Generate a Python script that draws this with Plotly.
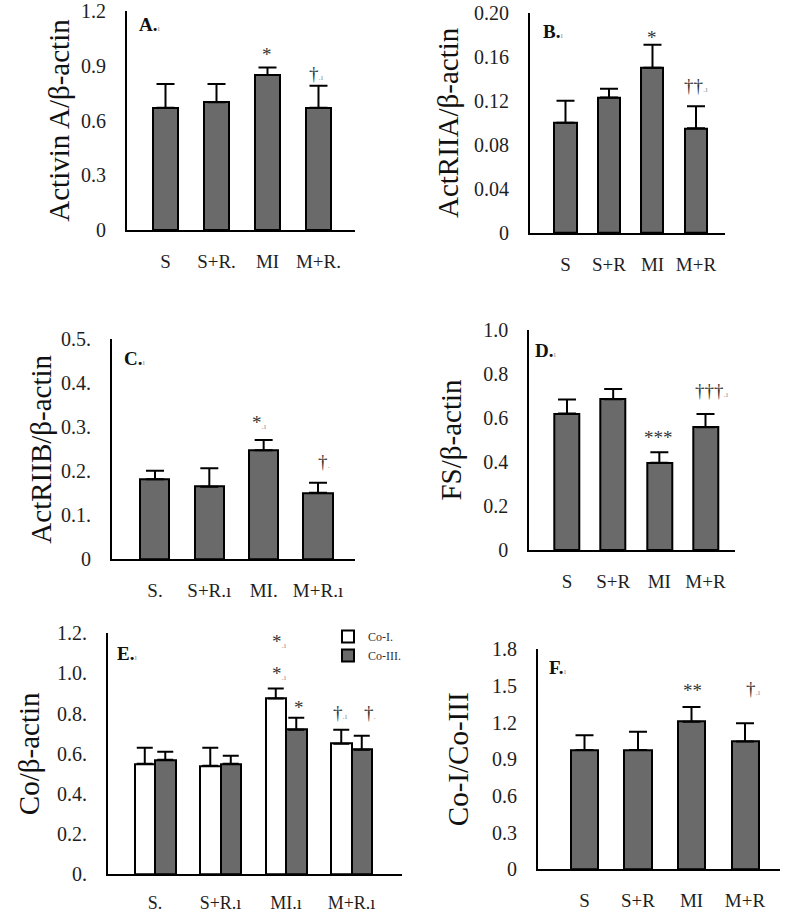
import plotly.graph_objects as go

W, H = 787, 913
FONT = "Liberation Serif"

groups_A = ["S", "S+R.", "MI", "M+R."]
groups_B = ["S", "S+R", "MI", "M+R"]
groups_C = ["S.", "S+R.ı", "MI.", "M+R.ı"]
groups_D = ["S", "S+R", "MI", "M+R"]
groups_E = ["S.", "S+R.ı", "MI.ı", "M+R.ı"]
groups_F = ["S", "S+R", "MI", "M+R"]

A_vals = [0.67, 0.70, 0.85, 0.67]
A_sem = [0.13, 0.10, 0.04, 0.12]
A_sig = ["", "", "*", "†.ı"]

B_vals = [0.100, 0.123, 0.150, 0.095]
B_sem = [0.020, 0.008, 0.021, 0.020]
B_sig = ["", "", "*", "††.ı"]

C_vals = [0.182, 0.165, 0.248, 0.151]
C_sem = [0.019, 0.042, 0.023, 0.023]
C_sig = ["", "", "*.ı", "†."]

D_vals = [0.620, 0.685, 0.397, 0.558]
D_sem = [0.064, 0.047, 0.047, 0.060]
D_sig = ["", "", "***", "†††.ı"]

E_co1 = [0.55, 0.54, 0.875, 0.65]
E_co1_sem = [0.08, 0.09, 0.05, 0.07]
E_co1_sig = ["", "", "*.ı", "†.ı"]
E_co1_sig_upper = ["", "", "*.ı", ""]
E_co3 = [0.57, 0.55, 0.72, 0.62]
E_co3_sem = [0.04, 0.04, 0.06, 0.07]
E_co3_sig = ["", "", "*", "†."]

F_vals = [0.976, 0.976, 1.208, 1.045]
F_sem = [0.12, 0.15, 0.12, 0.15]
F_sig = ["", "", "**", "†.ı"]

ticks_A = [0, 0.3, 0.6, 0.9, 1.2]
ticktext_A = ["0", "0.3", "0.6", "0.9", "1.2"]
ticks_B = [0, 0.04, 0.08, 0.12, 0.16, 0.20]
ticktext_B = ["0", "0.04", "0.08", "0.12", "0.16", "0.20"]
ticks_C = [0, 0.1, 0.2, 0.3, 0.4, 0.5]
ticktext_C = ["0", "0.1.", "0.2.", "0.3.", "0.4.", "0.5."]
ticks_D = [0, 0.2, 0.4, 0.6, 0.8, 1.0]
ticktext_D = ["0", "0.2", "0.4", "0.6", "0.8", "1.0"]
ticks_E = [0, 0.2, 0.4, 0.6, 0.8, 1.0, 1.2]
ticktext_E = ["0.", "0.2.", "0.4.", "0.6.", "0.8.", "1.0.", "1.2."]
ticks_F = [0, 0.3, 0.6, 0.9, 1.2, 1.5, 1.8]
ticktext_F = ["0", "0.3", "0.6", "0.9", "1.2", "1.5", "1.8"]

BAR_GRAY = "#6a6a6a"
TXT = "#1e1e1e"
ART = "<span style='font-size:9px;color:#999'>{}</span>"

fig = go.Figure()
annotations = []


def px_x(p):
    return p / W


def px_y(p):
    return 1 - p / H


def fmt(t):
    core = t.rstrip(".ı")
    tail = t[len(core):]
    return core + (ART.format(tail) if tail else "")


def add_panel(idx, xdom, ydom, xrange, yrange, ticks, ticktext, cats, title, letter,
              letter_pos, standoff, xfont=19, xstandoff=13):
    xa = "xaxis" if idx == 1 else f"xaxis{idx}"
    ya = "yaxis" if idx == 1 else f"yaxis{idx}"
    yref = "y" if idx == 1 else f"y{idx}"
    xref = "x" if idx == 1 else f"x{idx}"
    fig.update_layout(**{
        xa: dict(domain=[px_x(xdom[0]), px_x(xdom[1])], range=xrange, anchor=yref,
                 tickvals=[0, 1, 2, 3], ticktext=cats, showline=True, linecolor="black",
                 linewidth=2, showgrid=False, zeroline=False, ticks="",
                 ticklabelstandoff=xstandoff, automargin=False,
                 tickfont=dict(family=FONT, size=xfont, color=TXT)),
        ya: dict(domain=[px_y(ydom[1]), px_y(ydom[0])], range=yrange, anchor=xref,
                 tickvals=ticks, ticktext=ticktext, showline=True, linecolor="black",
                 linewidth=2, showgrid=False, zeroline=False, ticks="",
                 ticklabelstandoff=15, automargin=False,
                 tickfont=dict(family=FONT, size=20, color=TXT),
                 title=dict(text=title, font=dict(family=FONT, size=29, color="#111"),
                            standoff=standoff)),
    })
    annotations.append(dict(
        xref=f"{xref} domain", yref=f"{yref} domain", x=letter_pos[0], y=letter_pos[1],
        xanchor="left", yanchor="middle", showarrow=False,
        text=f"<b>{letter}.</b>" + ART.format("ı"),
        font=dict(family=FONT, size=19, color="#111")))
    return xref, yref


def add_bars(xref, yref, vals, sem, width, offset=None, color=BAR_GRAY, name=None,
             showlegend=False, errw=9):
    kw = {}
    if offset is not None:
        kw["offset"] = offset
    fig.add_trace(go.Bar(
        x=[0, 1, 2, 3], y=vals, width=width, xaxis=xref, yaxis=yref,
        marker=dict(color=color, line=dict(color="black", width=2)),
        error_y=dict(type="data", array=sem, arrayminus=[0] * len(sem), symmetric=False,
                     color="black", thickness=2, width=errw),
        name=name, showlegend=showlegend, **kw))


def add_sig(xref, yref, vals, sem, sigs, shifts, dx=0.0, size=19):
    for i, (v, s, t) in enumerate(zip(vals, sem, sigs)):
        if not t:
            continue
        xs, ys = shifts.get(i, (0, 0))
        annotations.append(dict(
            xref=xref, yref=yref, x=i + dx, y=v + s, xanchor="center", yanchor="bottom",
            yshift=ys, xshift=xs, showarrow=False,
            text=fmt(t), font=dict(family=FONT, size=size, color="#333")))


# Panel A
xr, yr = add_panel(1, (127, 355), (11, 230), [-0.755, 3.716], [0, 1.2],
                   ticks_A, ticktext_A, groups_A, "Activin A/β-actin", "A",
                   (0.045, 0.94), 3)
add_bars(xr, yr, A_vals, A_sem, 0.49)
add_sig(xr, yr, A_vals, A_sem, A_sig, {2: (0, 1), 3: (-2, 0)})

# Panel B
xr, yr = add_panel(2, (530, 725), (12.7, 233), [-0.816, 3.667], [0, 0.20],
                   ticks_B, ticktext_B, groups_B, "ActRIIA/β-actin", "B",
                   (0.055, 0.914), 7)
add_bars(xr, yr, B_vals, B_sem, 0.506)
add_sig(xr, yr, B_vals, B_sem, B_sig, {2: (0, -5), 3: (0, 8)})

# Panel C
xr, yr = add_panel(3, (112, 355), (339.3, 559.3), [-0.791, 3.681], [0, 0.5],
                   ticks_C, ticktext_C, groups_C, "ActRIIB/β-actin", "C",
                   (0.04, 0.914), 1)
add_bars(xr, yr, C_vals, C_sem, 0.534)
add_sig(xr, yr, C_vals, C_sem, C_sig, {2: (-4, 5), 3: (6, 9)})

# Panel D
xr, yr = add_panel(4, (529.3, 735), (330, 550), [-0.817, 3.639], [0, 1.0],
                   ticks_D, ticktext_D, groups_D, "FS/β-actin", "D",
                   (0.02, 0.909), 13)
add_bars(xr, yr, D_vals, D_sem, 0.54)
add_sig(xr, yr, D_vals, D_sem, D_sig, {2: (-1, 2), 3: (6, 11)})

# Panel E
xr, yr = add_panel(5, (108, 402), (633.3, 874.3), [-0.718, 3.771], [0, 1.2],
                   ticks_E, ticktext_E, groups_E, "Co/β-actin", "E",
                   (0.024, 0.917), 9, xfont=18, xstandoff=11)
add_bars(xr, yr, E_co1, E_co1_sem, 0.313, offset=-0.313, color="white",
         name="Co-I.", showlegend=True, errw=8)
add_bars(xr, yr, E_co3, E_co3_sem, 0.313, offset=0.0, color=BAR_GRAY,
         name="Co-III.", showlegend=True, errw=8)
add_sig(xr, yr, E_co1, E_co1_sem, E_co1_sig, {2: (4, 3), 3: (-1, 5)}, dx=-0.157)
add_sig(xr, yr, E_co1, E_co1_sem, E_co1_sig_upper, {2: (4, 35)}, dx=-0.157)
add_sig(xr, yr, E_co3, E_co3_sem, E_co3_sig, {2: (3, -2), 3: (8, 11)}, dx=0.157)

# Panel F
xr, yr = add_panel(6, (538, 780), (649.3, 869.3), [-0.869, 3.654], [0, 1.8],
                   ticks_F, ticktext_F, groups_F, "Co-I/Co-III", "F",
                   (0.038, 0.918), 15)
add_bars(xr, yr, F_vals, F_sem, 0.505)
add_sig(xr, yr, F_vals, F_sem, F_sig, {2: (1, 4), 3: (8, 22)})

fig.update_layout(
    width=W, height=H, margin=dict(l=0, r=0, t=0, b=0, autoexpand=False),
    paper_bgcolor="white", plot_bgcolor="white",
    barmode="overlay", bargap=0,
    annotations=annotations,
    legend=dict(x=px_x(328), y=px_y(622), xanchor="left", yanchor="top",
                font=dict(family=FONT, size=12, color="#333"),
                bgcolor="rgba(0,0,0,0)", itemwidth=30, tracegroupgap=0),
)

fig.write_html("out.html",
               config={"displayModeBar": False},
               post_script="document.body.style.margin='0';"
                           "document.body.style.overflow='hidden';")
